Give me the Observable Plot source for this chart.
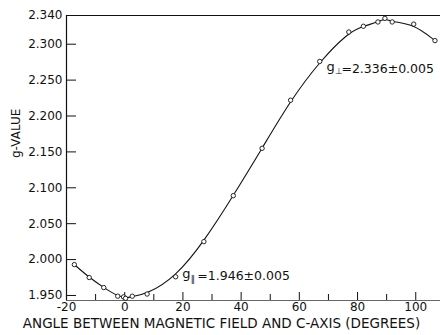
<!DOCTYPE html>
<html>
<head>
<meta charset="utf-8">
<script src="https://cdn.jsdelivr.net/npm/d3@7"></script>
<script src="https://cdn.jsdelivr.net/npm/@observablehq/plot@0.6"></script>
<style>
  html, body { margin: 0; padding: 0; background: #fff; }
  svg { display: block; }
</style>
</head>
<body>
<div id="chart"></div>
<script>
// Measured points: angle (degrees) and g-value
const angles = [-17.3, -12.2, -7.2, -2.4, -0.4, 0.3, 2.6, 7.7, 17.5, 27.2, 37.3, 47.2, 57.0, 67.0, 77.0, 82.0, 87.0, 89.4, 91.9, 99.3, 106.6];
const gValues = [1.993, 1.975, 1.961, 1.949, 1.948, 1.946, 1.949, 1.952, 1.976, 2.025, 2.089, 2.155, 2.222, 2.276, 2.317, 2.325, 2.331, 2.336, 2.331, 2.328, 2.305];

const xMajorTicks = [-20, 0, 20, 40, 60, 80, 100];
const xMinorTicks = [-10, 10, 30, 50, 70, 90];
const yTicks = [2.340, 2.300, 2.250, 2.200, 2.150, 2.100, 2.050, 2.000, 1.950];

const xLabel = "ANGLE BETWEEN MAGNETIC FIELD AND C-AXIS (DEGREES)";
const yLabel = "g-VALUE";

const parLabel = {x: 19.8, y: 1.977, sub: "\u2016", rest: "=1.946\u00B10.005"};
const perpLabel = {x: 69.3, y: 2.266, sub: "\u22A5", rest: "=2.336\u00B10.005"};

const points = angles.map((a, i) => ({angle: a, g: gValues[i]}));

const W = 440, H = 335;
const mL = 66, mR = 0, mT = 15, mB = 35;
const frameW = W - mL - mR, frameH = H - mT - mB;
const xDomain = [-20, 108.5];
const yDomain = [1.943, 2.340];

const labels = [parLabel, perpLabel];

const chart = Plot.plot({
  width: W,
  height: H,
  marginLeft: mL,
  marginRight: mR,
  marginTop: mT,
  marginBottom: mB,
  style: {fontFamily: "DejaVu Sans", fontSize: "12px", color: "#111", background: "#fff"},
  x: {domain: xDomain, axis: null},
  y: {domain: yDomain, axis: null},
  marks: [
    // frame lines
    Plot.ruleX([xDomain[0]], {stroke: "#111", strokeWidth: 1.2}),
    Plot.ruleY([yDomain[1]], {stroke: "#111", strokeWidth: 1.2}),
    Plot.ruleY([yDomain[0]], {stroke: "#666", strokeWidth: 1}),
    // inward ticks
    Plot.ruleX(xMajorTicks, {x: d => d, insetTop: frameH - 8, stroke: "#111"}),
    Plot.ruleX(xMinorTicks, {x: d => d, insetTop: frameH - 6, stroke: "#111"}),
    Plot.ruleY(yTicks, {y: d => d, insetRight: frameW - 10, stroke: "#111"}),
    // tick labels
    Plot.axisX(xMajorTicks, {tickSize: 0, tickPadding: 2, label: null, tickFormat: d => d < 0 ? "-" + Math.abs(d) : String(d), fontSize: 12}),
    Plot.axisY(yTicks, {tickSize: 0, tickPadding: 4, label: null, tickFormat: d => d.toFixed(3), fontSize: 12}),
    // axis titles
    Plot.text([xLabel], {frameAnchor: "bottom", text: d => d, dx: -32, dy: 27.5, fontSize: 13.5}),
    Plot.text([yLabel], {frameAnchor: "left", text: d => d, dx: -50, rotate: -90, fontSize: 12}),
    // curve and points
    Plot.line(points, {x: "angle", y: "g", curve: "basis", stroke: "#111", strokeWidth: 1.1}),
    Plot.dot(points, {x: "angle", y: "g", r: 2.2, fill: "#fff", stroke: "#111", strokeWidth: 0.9}),
    // annotations
    Plot.text(labels, {x: "x", y: "y", text: () => "g", textAnchor: "start", fontSize: 13, dy: -2}),
    Plot.text(labels, {x: "x", y: "y", text: "sub", textAnchor: "start", fontSize: 8.5, dx: 8.5, dy: 3}),
    Plot.text(labels, {x: "x", y: "y", text: "rest", textAnchor: "start", fontSize: 12.5, dx: 15})
  ]
});

document.getElementById("chart").appendChild(chart);
</script>
</body>
</html>
